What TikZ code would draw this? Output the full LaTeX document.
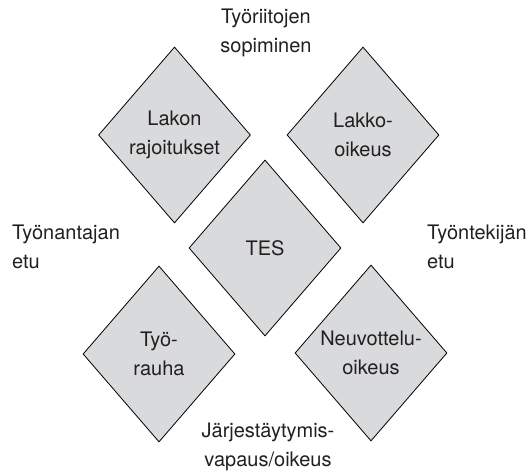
\documentclass[tikz,border=0pt]{standalone}
\usepackage{fontspec}
\setmainfont{TeX Gyre Heros}
\usetikzlibrary{shapes.geometric}
\definecolor{diafill}{HTML}{D9DADC}
\definecolor{txtcol}{HTML}{231F20}
\tikzset{
  dia/.style={diamond, draw=black, fill=diafill, line width=0.8pt, inner sep=0pt,
    minimum width=152pt, minimum height=176pt},
  lbl/.style={text=txtcol, font=\fontsize{20}{29}\selectfont, align=center, inner sep=0pt},
  side/.style={lbl, align=left}
}
\begin{document}
\begin{tikzpicture}[x=1pt,y=-1pt]
\useasboundingbox (0,0) rectangle (529,473);
\node[dia] (lr) at (174.5,135) {};
\node[dia] (lo) at (363,135) {};
\node[dia] (tes) at (265,248) {};
\node[dia] (tr) at (159,354) {};
\node[dia] (no) at (371,353) {};
\node[lbl] (lrt) at (lr) {Lakon\\rajoitukset};
\node[lbl] (lot) at (lo) {Lakko-\\oikeus};
\node[lbl] (test) at (tes) {TES};
\node[lbl] (trt) at (tr) {Työ-\\rauha};
\node[lbl] (not) at (no) {Neuvottelu-\\oikeus};
\node[lbl] (top) at (266,33) {Työriitojen\\sopiminen};
\node[lbl] (bot) at (268,447) {Järjestäytymis-\\vapaus/oikeus};
\node[side, anchor=west] (left) at (12,247) {Työnantajan\\etu};
\node[side, anchor=west] (right) at (427,247) {Työntekijän\\etu};
\end{tikzpicture}
\end{document}
